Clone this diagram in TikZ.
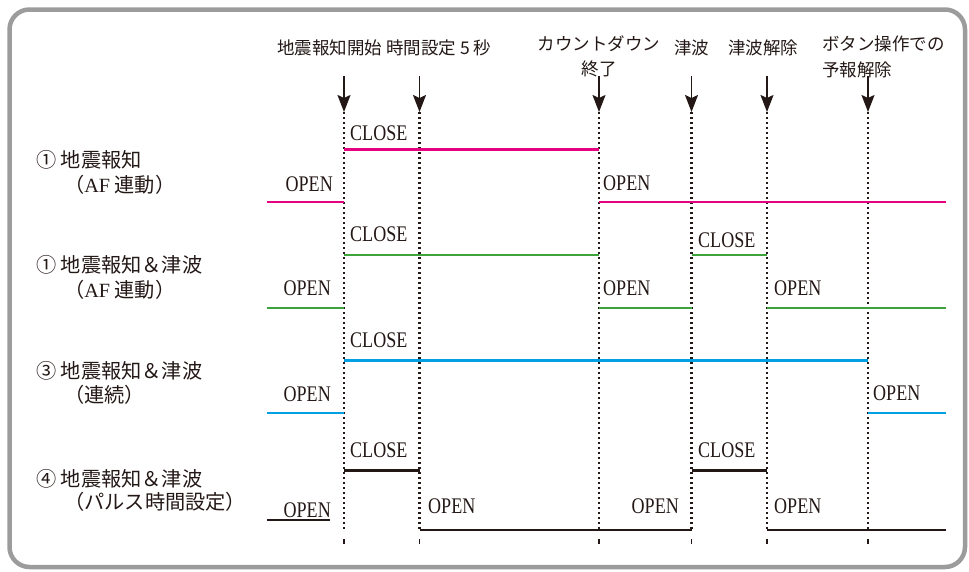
\documentclass[tikz,border=0pt]{standalone}
\usepackage{fontspec}
\setmainfont{Liberation Serif}
\newfontfamily\jp{Noto Sans CJK JP}
\usetikzlibrary{arrows.meta}
\newcommand{\tallsig}[1]{\scalebox{0.97}[1.2]{#1}}
\definecolor{txt}{HTML}{231815}
\definecolor{frame}{HTML}{9C9C9C}
\definecolor{sigmag}{HTML}{E4007F}
\definecolor{siggrn}{HTML}{3FA33C}
\definecolor{sigcyn}{HTML}{00A0E2}
\definecolor{sigblk}{HTML}{231815}
\begin{document}
\begin{tikzpicture}[x=1pt,y=-1pt,
  sig/.style={inner sep=0pt,text=txt,font=\fontsize{18.6}{20}\selectfont},
  jtop/.style={inner sep=0pt,text=txt,font=\jp\fontsize{17.5}{20}\selectfont},
  jleft/.style={inner sep=0pt,text=txt,anchor=west,font=\jp\fontsize{20.2}{22}\selectfont},
  evarrow/.style={line width=1.8pt,draw=txt,-{Stealth[length=17pt,width=13pt,inset=3pt]}},
  evline/.style={line width=2.6pt,draw=txt,dash pattern=on 2.4pt off 2.6pt},
  wave/.style={line width=2.1pt},
]
\useasboundingbox (0,0) rectangle (969,571);
\draw[frame,line width=4.5pt,rounded corners=20pt] (9.5,9.5) rectangle (965,567);

% event coordinates
\foreach \n/\x in {1/344,2/419.5,3/599,4/691.5,5/767,6/868}{
  \coordinate (a\n) at (\x,76);
  \coordinate (t\n) at (\x,112);
  \coordinate (b\n) at (\x,530);
  \coordinate (k\n) at (\x,539);
  \coordinate (kk\n) at (\x,544);
  \draw[evarrow] (a\n) -- (t\n);
  \draw[evline] (t\n) -- (b\n);
  \draw[txt,line width=1.6pt] (k\n) -- (kk\n);
}

% top labels
\node[jtop,anchor=west] (l1) at (277,48) {地震報知開始};
\node[jtop,anchor=west] (l2) at (386,48) {時間設定 5 秒};
\node[jtop] (l3) at (599,44) {カウントダウン};
\node[jtop] (l3b) at (599,69) {終了};
\node[jtop] (l4) at (691.5,48) {津波};
\node[jtop] (l5) at (763,48) {津波解除};
\node[jtop,anchor=west] (l6) at (822,44) {ボタン操作での};
\node[jtop,anchor=west] (l6b) at (822,70) {予報解除};

% left labels
\node[jleft] (r1a) at (36,160) {① 地震報知};
\node[jleft] (r1b) at (64,185) {（{\rmfamily AF} 連動）};
\node[jleft] (r2a) at (36,265) {① 地震報知＆津波};
\node[jleft] (r2b) at (64,290) {（{\rmfamily AF} 連動）};
\node[jleft] (r3a) at (36,371) {③ 地震報知＆津波};
\node[jleft] (r3b) at (64,395) {（連続）};
\node[jleft] (r4a) at (36,479) {④ 地震報知＆津波};
\node[jleft] (r4b) at (64,502) {（パルス時間設定）};

% row 1 (magenta)
\draw[wave,sigmag] (267,202) -- (344,202);
\draw[wave,sigmag] (344,149.5) -- (599,149.5);
\draw[wave,sigmag] (599,202) -- (946,202);
\node[sig,anchor=west] (c11) at (350,133) {\tallsig{CLOSE}};
\node[sig,anchor=east] (o11) at (333,184) {\tallsig{OPEN}};
\node[sig,anchor=west] (o12) at (603,183) {\tallsig{OPEN}};

% row 2 (green)
\draw[wave,siggrn] (267,308) -- (344,308);
\draw[wave,siggrn] (344,255) -- (599,255);
\draw[wave,siggrn] (599,308) -- (691.5,308);
\draw[wave,siggrn] (691.5,255) -- (767,255);
\draw[wave,siggrn] (767,308) -- (946,308);
\node[sig,anchor=west] (c21) at (350,234) {\tallsig{CLOSE}};
\node[sig,anchor=west] (c22) at (698,240) {\tallsig{CLOSE}};
\node[sig,anchor=east] (o21) at (331,288) {\tallsig{OPEN}};
\node[sig,anchor=west] (o22) at (603,288) {\tallsig{OPEN}};
\node[sig,anchor=west] (o23) at (774,288) {\tallsig{OPEN}};

% row 3 (cyan)
\draw[wave,sigcyn] (267,413) -- (344,413);
\draw[wave,sigcyn] (344,360.5) -- (868,360.5);
\draw[wave,sigcyn] (868,413) -- (946,413);
\node[sig,anchor=west] (c31) at (350,340) {\tallsig{CLOSE}};
\node[sig,anchor=east] (o31) at (331,394) {\tallsig{OPEN}};
\node[sig,anchor=west] (o32) at (873,393) {\tallsig{OPEN}};

% row 4 (black)
\draw[wave,sigblk,line width=1.8pt] (267,520) -- (330,520);
\draw[wave,sigblk] (344,470.5) -- (419.5,470.5);
\draw[wave,sigblk] (419.5,530) -- (691.5,530);
\draw[wave,sigblk] (691.5,470.5) -- (767,470.5);
\draw[wave,sigblk] (767,530) -- (946,530);
\node[sig,anchor=west] (c41) at (350,450) {\tallsig{CLOSE}};
\node[sig,anchor=west] (c42) at (698,450) {\tallsig{CLOSE}};
\node[sig,anchor=east] (o41) at (331,510) {\tallsig{OPEN}};
\node[sig,anchor=west] (o42) at (428,506) {\tallsig{OPEN}};
\node[sig,anchor=east] (o43) at (679,506) {\tallsig{OPEN}};
\node[sig,anchor=west] (o44) at (774,506) {\tallsig{OPEN}};
\end{tikzpicture}
\end{document}
